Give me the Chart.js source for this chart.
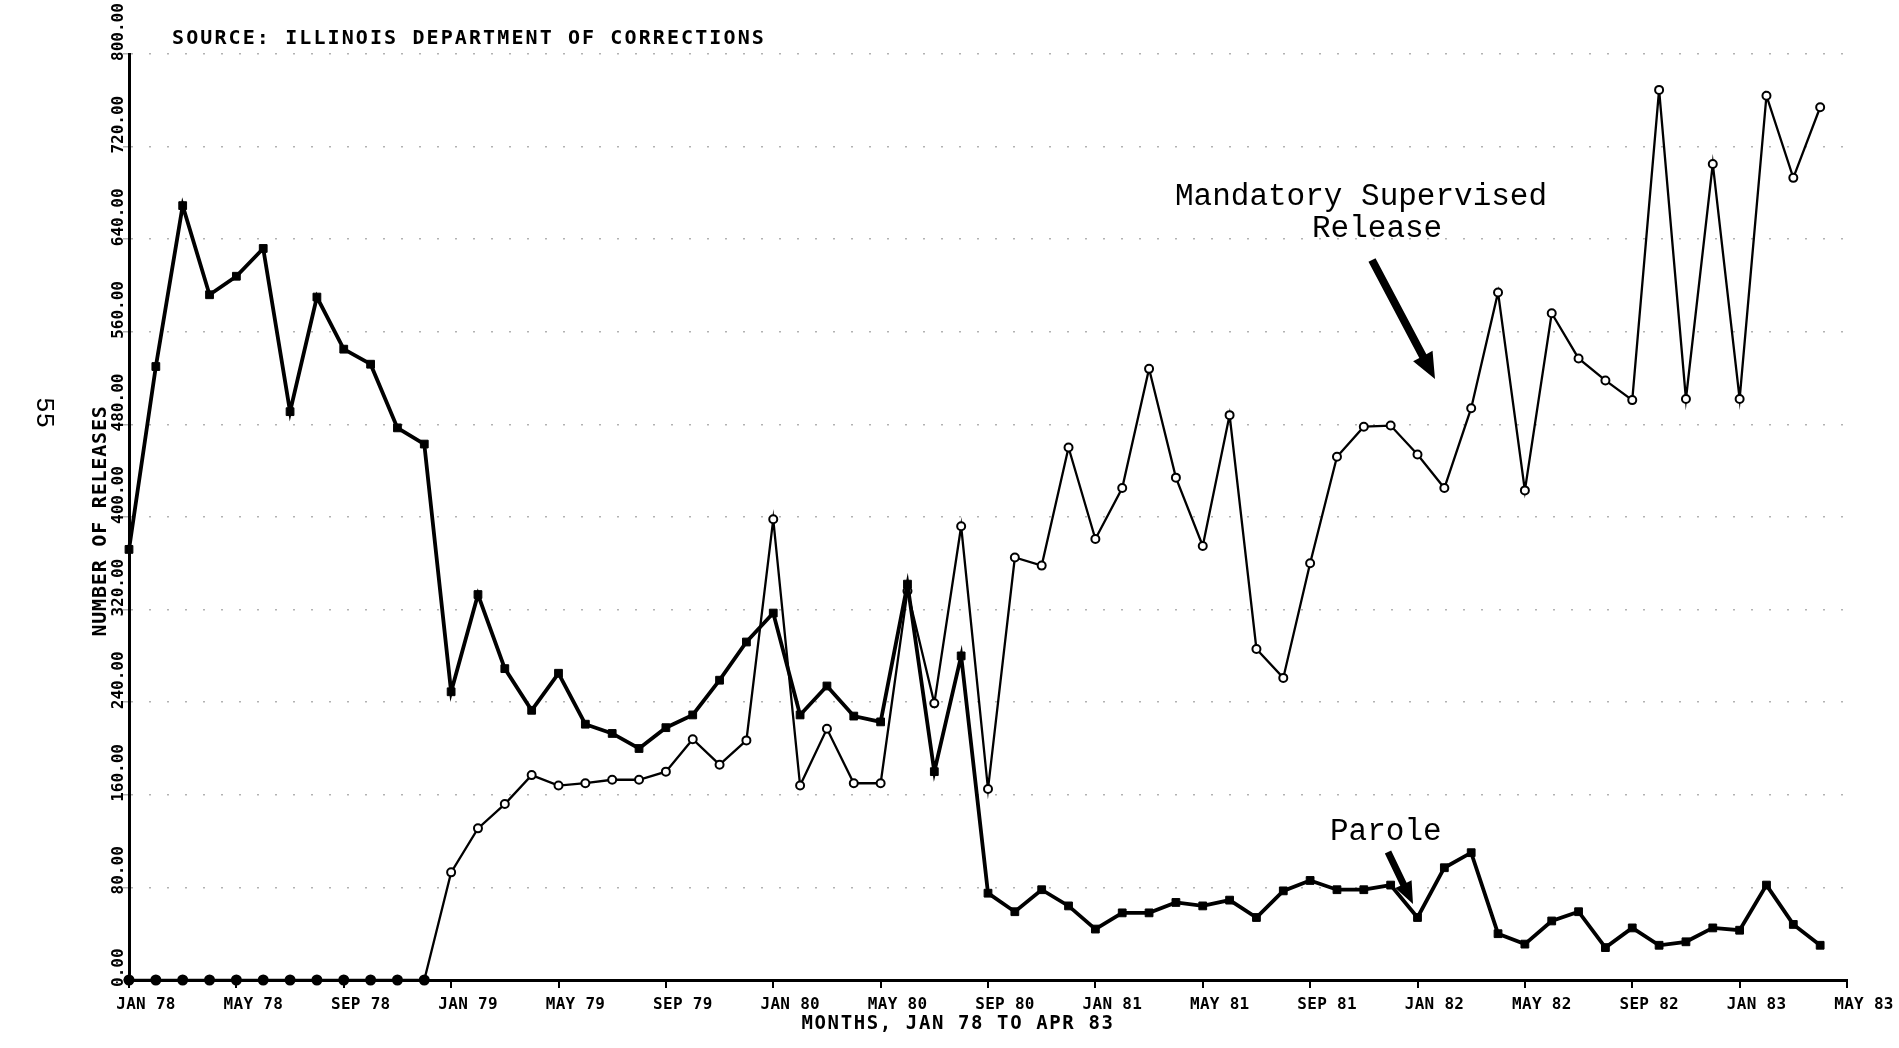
<!DOCTYPE html>
<html>
<head>
<meta charset="utf-8">
<title>Releases: Parole vs Mandatory Supervised Release, Jan 78 - Apr 83</title>
<script src="https://cdn.jsdelivr.net/npm/chart.js@4.4.1/dist/chart.umd.min.js"></script>
<style>
  html, body { margin: 0; padding: 0; background: #fff; overflow: hidden; }
  #wrap { width: 1899px; height: 1048px; position: relative; }
</style>
</head>
<body>
<div id="wrap"><canvas id="chart" width="1899" height="1048"></canvas></div>
<script>
// Month categories: JAN 78 .. MAY 83 (the axis runs one month past the last observation)
const monthNames = ['JAN', 'FEB', 'MAR', 'APR', 'MAY', 'JUN', 'JUL', 'AUG', 'SEP', 'OCT', 'NOV', 'DEC'];
const years = ['78', '79', '80', '81', '82', '83'];
const categories = [];
for (const yr of years) for (const m of monthNames) categories.push(m + ' ' + yr);
categories.length = 65;

// Monthly releases, JAN 78 .. APR 83
const parole = [
  372, 530, 669, 592, 608, 632, 491, 590, 545, 532, 477, 463,
  249, 333, 269, 233, 265, 221, 213, 200, 218, 229, 259, 292,
  317, 229, 254, 228, 223, 342, 180, 280, 75, 59, 78, 64,
  44, 58, 58, 67, 64, 69, 54, 77, 86, 78, 78, 82,
  54, 97, 110, 40, 31, 51, 59, 28, 45, 30, 33, 45,
  43, 82, 48, 30
];
const mandatorySupervised = [
  0, 0, 0, 0, 0, 0, 0, 0, 0, 0, 0, 0,
  93, 131, 152, 177, 168, 170, 173, 173, 180, 208, 186, 207,
  398, 168, 217, 170, 170, 336, 239, 392, 165, 365, 358, 460,
  381, 425, 528, 434, 375, 488, 286, 261, 360, 452, 478, 479,
  454, 425, 494, 594, 423, 576, 537, 518, 501, 769, 502, 705,
  502, 764, 693, 754
];

// Axis tick labels
const xTickLabels = ['JAN 78', 'MAY 78', 'SEP 78', 'JAN 79', 'MAY 79', 'SEP 79', 'JAN 80', 'MAY 80',
  'SEP 80', 'JAN 81', 'MAY 81', 'SEP 81', 'JAN 82', 'MAY 82', 'SEP 82', 'JAN 83', 'MAY 83'];
const yTickValues = [0, 80, 160, 240, 320, 400, 480, 560, 640, 720, 800];
const yTickLabels = ['0.00', '80.00', '160.00', '240.00', '320.00', '400.00', '480.00', '560.00', '640.00', '720.00', '800.00'];

const plotFont = '"DejaVu Sans Mono", "Liberation Mono", monospace';
const typeFont = '"Liberation Mono", "DejaVu Sans Mono", monospace';

function drawArrow(ctx, x1, y1, x2, y2, shaft, headLen, headHalf) {
  const dx = x2 - x1, dy = y2 - y1;
  const len = Math.hypot(dx, dy);
  const ux = dx / len, uy = dy / len;
  const px = -uy, py = ux;
  const bx = x2 - ux * headLen, by = y2 - uy * headLen;
  ctx.beginPath();
  ctx.moveTo(x1 + px * shaft / 2, y1 + py * shaft / 2);
  ctx.lineTo(bx + px * shaft / 2, by + py * shaft / 2);
  ctx.lineTo(bx + px * headHalf, by + py * headHalf);
  ctx.lineTo(x2, y2);
  ctx.lineTo(bx - px * headHalf, by - py * headHalf);
  ctx.lineTo(bx - px * shaft / 2, by - py * shaft / 2);
  ctx.lineTo(x1 - px * shaft / 2, y1 - py * shaft / 2);
  ctx.closePath();
  ctx.fill();
}

// Tick labels, axis titles, annotations and arrows
const labelsPlugin = {
  id: 'plotterLabels',
  afterDraw(chart) {
    const ctx = chart.ctx;
    const xs = chart.scales.x, ys = chart.scales.y;
    ctx.save();
    ctx.fillStyle = '#000';

    // y tick labels, rotated, reading upward from just below each tick
    ctx.font = 'bold 16px ' + plotFont;
    ctx.letterSpacing = '0px';
    ctx.textBaseline = 'alphabetic';
    yTickValues.forEach((v, k) => {
      const y = ys.getPixelForValue(v);
      ctx.save();
      ctx.translate(xs.left - 6, y + 7);
      ctx.rotate(-Math.PI / 2);
      ctx.textAlign = 'left';
      ctx.fillText(yTickLabels[k], 0, 0);
      ctx.restore();
    });

    // x tick labels
    ctx.font = 'bold 16px ' + plotFont;
    ctx.letterSpacing = '0.3px';
    ctx.textAlign = 'center';
    xTickLabels.forEach(lbl => {
      const idx = categories.indexOf(lbl);
      const x = xs.getPixelForValue(idx);
      ctx.fillText(lbl, x + 17, ys.bottom + 29);
    });

    // axis titles
    ctx.font = 'bold 20px ' + plotFont;
    ctx.letterSpacing = '0.8px';
    ctx.save();
    ctx.translate(xs.left - 23, 521);
    ctx.rotate(-Math.PI / 2);
    ctx.textAlign = 'center';
    ctx.fillText('NUMBER OF RELEASES', 0, 0);
    ctx.restore();

    ctx.font = 'bold 19px ' + plotFont;
    ctx.letterSpacing = '1.6px';
    ctx.textAlign = 'center';
    ctx.fillText('MONTHS, JAN 78 TO APR 83', 958, ys.bottom + 49);

    // source line
    ctx.font = 'bold 20px ' + plotFont;
    ctx.letterSpacing = '2.1px';
    ctx.textAlign = 'left';
    ctx.fillText('SOURCE: ILLINOIS DEPARTMENT OF CORRECTIONS', 172, 44);

    // series annotations
    ctx.font = '31px ' + typeFont;
    ctx.letterSpacing = '0px';
    ctx.textAlign = 'left';
    ctx.fillText('Mandatory Supervised', 1175, 205);
    ctx.fillText('Release', 1312, 237);
    ctx.fillText('Parole', 1330, 840);

    drawArrow(ctx, 1372, 260, 1435, 379, 8, 26, 11);
    drawArrow(ctx, 1388, 852, 1413, 904, 7, 22, 9);

    // page number
    ctx.font = '26px ' + typeFont;
    ctx.save();
    ctx.translate(44, 397);
    ctx.rotate(Math.PI / 2);
    ctx.textAlign = 'left';
    ctx.textBaseline = 'middle';
    ctx.fillText('55', 0, 0);
    ctx.restore();

    ctx.restore();
  }
};

new Chart(document.getElementById('chart'), {
  type: 'line',
  data: {
    labels: categories,
    datasets: [
      {
        label: 'Parole',
        data: parole,
        borderColor: '#000',
        borderWidth: 3.8,
        pointStyle: 'rect',
        pointRadius: 5.5,
        pointBackgroundColor: '#000',
        pointBorderColor: '#000',
        pointBorderWidth: 1,
        tension: 0,
        clip: false
      },
      {
        label: 'Mandatory Supervised Release',
        data: mandatorySupervised,
        borderColor: '#000',
        borderWidth: 2.3,
        pointStyle: 'circle',
        pointRadius: ctx => (ctx.raw === 0 ? 4.5 : 4),
        pointBackgroundColor: ctx => (ctx.raw === 0 ? '#000' : '#fff'),
        pointBorderColor: '#000',
        pointBorderWidth: 2,
        tension: 0,
        clip: false
      }
    ]
  },
  options: {
    responsive: false,
    animation: false,
    devicePixelRatio: 1,
    events: [],
    layout: { padding: { top: 54, right: 52, left: 0, bottom: 0 } },
    plugins: { legend: { display: false }, tooltip: { enabled: false }, title: { display: false } },
    scales: {
      x: {
        type: 'category',
        offset: false,
        ticks: { display: false, autoSkip: false },
        grid: {
          drawOnChartArea: false,
          drawTicks: true,
          tickLength: 8,
          lineWidth: 2,
          color: ctx => (ctx.index % 4 === 0 ? '#000' : 'rgba(0,0,0,0)')
        },
        border: { display: true, color: '#000', width: 3 },
        afterFit: s => { s.height = 68; }
      },
      y: {
        min: 0,
        max: 800,
        ticks: { display: false, stepSize: 80 },
        grid: { drawOnChartArea: true, drawTicks: true, tickLength: 6, color: 'rgba(0,0,0,0.3)', lineWidth: 1.5 },
        border: { display: true, color: '#000', width: 3, dash: [2, 16] },
        afterFit: s => { s.width = 129; }
      }
    }
  },
  plugins: [labelsPlugin]
});
</script>
</body>
</html>
